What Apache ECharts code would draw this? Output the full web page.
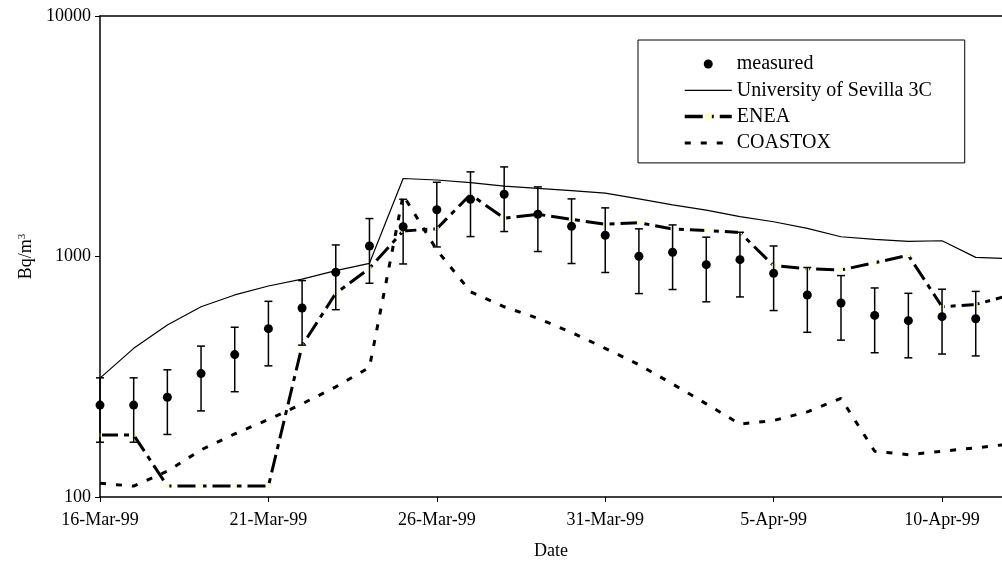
<!DOCTYPE html>
<html>
<head>
    <meta charset="utf-8">
    <script type="text/javascript" src="https://cdn.jsdelivr.net/npm/echarts@6/dist/echarts.min.js"></script>
</head>
<body style="margin:0">

<div id="main" style="width: 1002px;height:572px;"></div>

<script type="text/javascript">

    // one entry per day, index = position on the x axis
    var dates = ['16-Mar-99','17-Mar-99','18-Mar-99','19-Mar-99','20-Mar-99','21-Mar-99','22-Mar-99',
        '23-Mar-99','24-Mar-99','25-Mar-99','26-Mar-99','27-Mar-99','28-Mar-99','29-Mar-99','30-Mar-99',
        '31-Mar-99','1-Apr-99','2-Apr-99','3-Apr-99','4-Apr-99','5-Apr-99','6-Apr-99','7-Apr-99',
        '8-Apr-99','9-Apr-99','10-Apr-99','11-Apr-99','12-Apr-99'];
    var tickLabels = ['16-Mar-99','21-Mar-99','26-Mar-99','31-Mar-99','5-Apr-99','10-Apr-99'];

    var measured     = [241,241,260,326,391,501,611,859,1106,1330,1565,1729,1814,1498,1335,1225,1002,1041,925,970,851,692,641,569,541,562,551];
    var measuredLow  = [169,169,182,228,274,351,428,601,774,931,1096,1210,1270,1049,935,858,701,729,648,679,596,484,449,398,379,393,386];
    var measuredHigh = [313,313,338,424,508,651,794,1117,1438,1729,2035,2248,2358,1947,1736,1593,1303,1353,1203,1261,1106,900,833,740,703,731,716];

    var sevilla = [312,415,519,618,692,754,805,873,937,2110,2080,2030,1963,1921,1879,1833,1735,1640,1559,1464,1395,1310,1208,1179,1156,1163,992,980];
    var enea    = [181,181,111,111,111,111,426,703,893,1276,1305,1810,1443,1498,1428,1361,1383,1300,1284,1257,916,890,879,942,1012,618,632,690];
    var coastox = [114,111,128,157,183,210,244,287,346,1800,1064,714,618,553,483,415,355,295,244,201,208,226,257,155,150,155,160,166];

    var font = 'Liberation Serif';

    function pairs(arr) {
        return arr.map(function (v, i) { return [i, v]; });
    }

    var myChart = echarts.init(document.getElementById('main'));

    var option = {
        animation: false,
        backgroundColor: '#fff',
        textStyle: { fontFamily: font, color: '#000' },
        grid: { left: 100, right: 0, top: 16, bottom: 75 },
        legend: {
            orient: 'vertical',
            left: 638,
            top: 40,
            padding: [14, 33, 10, 45],
            borderColor: '#000',
            borderWidth: 1,
            backgroundColor: '#fff',
            itemWidth: 47,
            itemHeight: 9,
            itemGap: 6.3,
            textStyle: { fontFamily: font, fontSize: 20, color: '#000' },
            data: [
                { name: 'measured' },
                { name: 'University of Sevilla 3C', lineStyle: { width: 1.2 } },
                { name: 'ENEA', lineStyle: { width: 3.5 } },
                { name: 'COASTOX', lineStyle: { width: 3 } }
            ]
        },
        xAxis: [{
            type: 'value',
            min: 0,
            max: 26.78,
            interval: 5,
            name: 'Date',
            nameLocation: 'middle',
            nameGap: 45,
            nameTextStyle: { fontFamily: font, fontSize: 18, color: '#000' },
            axisLine: { lineStyle: { color: '#000', width: 1.5 } },
            axisTick: { length: 5, lineStyle: { color: '#000' } },
            splitLine: { show: false },
            axisLabel: {
                fontFamily: font, fontSize: 18, color: '#000', margin: 14,
                showMaxLabel: false,
                formatter: function (v) { return tickLabels[Math.round(v / 5)] || ''; }
            }
        }, {
            type: 'value',
            position: 'top',
            min: 0,
            max: 26.78,
            axisLine: { lineStyle: { color: '#000', width: 1.5 } },
            axisTick: { show: false },
            axisLabel: { show: false },
            splitLine: { show: false }
        }],
        yAxis: {
            type: 'log',
            logBase: 10,
            min: 100,
            max: 10000,
            name: 'Bq/m{sup|3}',
            nameLocation: 'middle',
            nameGap: 64,
            nameTextStyle: {
                fontFamily: font, fontSize: 18, color: '#000',
                rich: { sup: { fontFamily: font, fontSize: 11, verticalAlign: 'top', lineHeight: 18 } }
            },
            axisLine: { show: true, lineStyle: { color: '#000', width: 1.5 } },
            axisTick: { show: true, length: 5, lineStyle: { color: '#000' } },
            minorTick: { show: false },
            splitLine: { show: false },
            axisLabel: {
                fontFamily: font, fontSize: 18, color: '#000', margin: 9,
                formatter: function (v) { return String(v); }
            }
        },
        series: [
            {
                name: 'University of Sevilla 3C',
                type: 'line',
                data: pairs(sevilla),
                symbol: 'none',
                z: 2,
                lineStyle: { color: '#000', width: 1.2 },
                itemStyle: { color: 'rgba(0,0,0,0)' }
            },
            {
                name: 'ENEA',
                type: 'line',
                data: pairs(enea),
                symbol: 'rect',
                symbolSize: 4,
                z: 2,
                lineStyle: { color: '#000', width: 3, type: [18, 6, 5, 6] },
                itemStyle: { color: '#ffffc8' }
            },
            {
                name: 'COASTOX',
                type: 'line',
                data: pairs(coastox),
                symbol: 'none',
                z: 2,
                lineStyle: { color: '#000', width: 3, type: [6, 10] },
                itemStyle: { color: 'rgba(0,0,0,0)' }
            },
            {
                name: 'error',
                type: 'custom',
                z: 3,
                data: measured.map(function (v, i) { return [i, measuredLow[i], measuredHigh[i]]; }),
                encode: { x: 0, y: [1, 2] },
                renderItem: function (params, api) {
                    var lo = api.coord([api.value(0), api.value(1)]);
                    var hi = api.coord([api.value(0), api.value(2)]);
                    var w = 4;
                    var st = { stroke: '#000', lineWidth: 1.5 };
                    return {
                        type: 'group',
                        children: [
                            { type: 'line', shape: { x1: hi[0], y1: hi[1], x2: lo[0], y2: lo[1] }, style: st },
                            { type: 'line', shape: { x1: hi[0] - w, y1: hi[1], x2: hi[0] + w, y2: hi[1] }, style: st },
                            { type: 'line', shape: { x1: lo[0] - w, y1: lo[1], x2: lo[0] + w, y2: lo[1] }, style: st }
                        ]
                    };
                }
            },
            {
                name: 'measured',
                type: 'scatter',
                data: pairs(measured),
                symbol: 'circle',
                symbolSize: 9,
                z: 4,
                itemStyle: { color: '#000', opacity: 1 }
            }
        ]
    };

    myChart.setOption(option);
</script>

</body>
</html>
